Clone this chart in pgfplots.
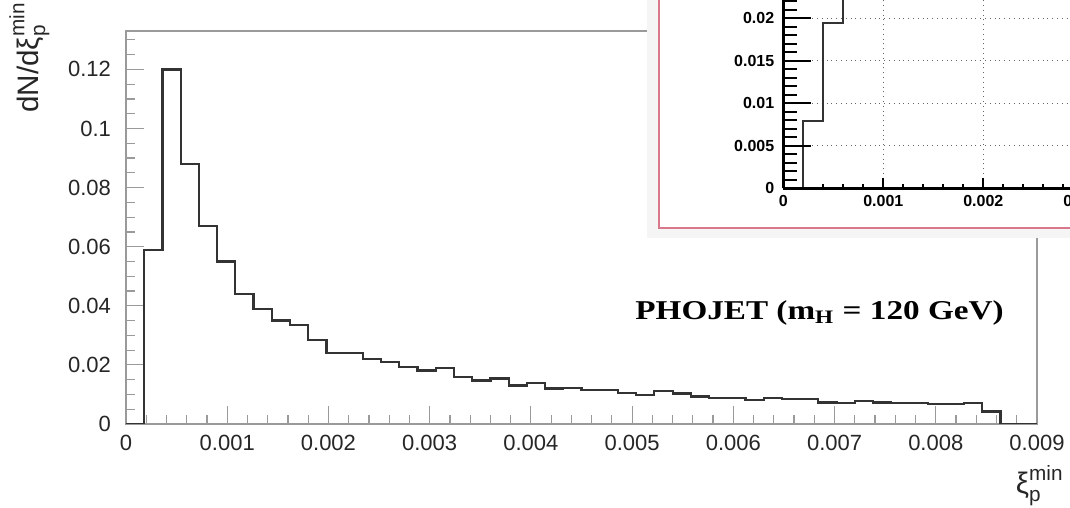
\documentclass[border=0pt]{standalone}
\usepackage{fontspec}
\setmainfont{Liberation Sans}
\newfontfamily\serifbf{Liberation Serif}
\usepackage{amsmath}
\usepackage{graphicx}
\usepackage{pgfplots}
\pgfplotsset{compat=1.18}
\definecolor{framegray}{HTML}{9A9A9A}
\definecolor{insetpink}{HTML}{D8788A}
\definecolor{histgray}{HTML}{333333}
\begin{document}
\begin{tikzpicture}
\path[use as bounding box, clip] (0,0) rectangle (535pt,254pt);
\begin{axis}[
  at={(63pt,42pt)}, anchor=south west, scale only axis,
  width=455.5pt, height=196.5pt,
  xmin=0, xmax=0.009, ymin=0, ymax=0.133,
  axis line style={draw=framegray, line width=0.6pt},
  tick style={draw=framegray, line width=0.6pt},
  tick pos=left, tick align=inside,
  major tick length=9pt, minor tick length=4.5pt,
  xtick={0,0.001,0.002,0.003,0.004,0.005,0.006,0.007,0.008,0.009},
  xticklabels={0,0.001,0.002,0.003,0.004,0.005,0.006,0.007,0.008,0.009},
  minor x tick num=4,
  ytick={0,0.02,0.04,0.06,0.08,0.1,0.12},
  yticklabels={0,0.02,0.04,0.06,0.08,0.1,0.12},
  minor ytick={0.005,0.01,0.015,0.025,0.03,0.035,0.045,0.05,0.055,0.065,0.07,0.075,0.085,0.09,0.095,0.105,0.11,0.115,0.125,0.13},
  scaled ticks=false,
  ticklabel style={font=\fontsize{11}{13}\selectfont, text=black!85},
  xticklabel style={yshift=-2pt},
  yticklabel style={xshift=-4pt},
]
\addplot[const plot, draw=histgray, line width=1.1pt] coordinates {
(0,0) (0.00018,0.059) (0.00036,0.120) (0.00054,0.088) (0.00072,0.067)
(0.0009,0.055) (0.00108,0.044) (0.00126,0.039) (0.00144,0.035) (0.00162,0.0336)
(0.0018,0.0285) (0.00198,0.0240) (0.00216,0.0240) (0.00234,0.0219) (0.00252,0.0211)
(0.0027,0.0192) (0.00288,0.0181) (0.00306,0.0189) (0.00324,0.0160) (0.00342,0.0147)
(0.0036,0.0154) (0.00378,0.0130) (0.00396,0.0140) (0.00414,0.0120) (0.00432,0.0122)
(0.0045,0.0115) (0.00468,0.0115) (0.00486,0.0104) (0.00504,0.0098) (0.00522,0.0111)
(0.0054,0.0103) (0.00558,0.0093) (0.00576,0.0089) (0.00594,0.0089) (0.00612,0.0082)
(0.0063,0.0087) (0.00648,0.0084) (0.00666,0.0084) (0.00684,0.0073) (0.00702,0.0070)
(0.0072,0.0078) (0.00738,0.0073) (0.00756,0.0071) (0.00774,0.0071) (0.00792,0.0067)
(0.0081,0.0067) (0.00828,0.0070) (0.00846,0.0042) (0.00864,0) (0.00882,0) (0.009,0)
};
\end{axis}
% axis titles
\node[rotate=90, anchor=base east, inner sep=0pt, font=\fontsize{14.8}{16}\selectfont, text=black!85]
  at (19pt,253pt) {dN/d$\text{ξ}^{\text{min}}_{\text{p}}$};
\node[anchor=base east, inner sep=0pt, font=\fontsize{14.8}{16}\selectfont, text=black!85]
  at (532pt,7pt) {$\text{ξ}^{\text{min}}_{\text{p}}$};
\node[anchor=base west, inner sep=0pt, font=\serifbf\bfseries\fontsize{13.6}{15}\selectfont]
  at (317.5pt,94.35pt) {\scalebox{1.22}[1]{PHOJET (m\textsubscript{H} = 120 GeV)}};
% inset frame
\fill[black!4] (323.5pt,135pt) rectangle (560pt,300pt);
\draw[insetpink, line width=0.9pt, fill=white] (329.5pt,140pt) rectangle (560pt,300pt);
% inset: x ticks, grid, histogram
\begin{axis}[
  at={(391.65pt,159.85pt)}, anchor=south west, scale only axis,
  width=200pt, height=127.5pt,
  xmin=0, xmax=0.004, ymin=0, ymax=0.03,
  axis x line*=bottom, axis y line*=left,
  axis line style={black, line width=1.5pt},
  tick style={black, line width=0.9pt},
  tick align=inside,
  major tick length=5pt, minor tick length=2.2pt,
  xtick={0,0.001,0.002,0.003,0.004},
  xticklabels={0,0.001,0.002,0.003,0.004},
  minor x tick num=4,
  ytick={0,0.005,0.01,0.015,0.02,0.025,0.03},
  yticklabels={},
  ymajorticks=false,
  scaled ticks=false,
  grid=major,
  major grid style={black!60, dotted, line width=0.7pt},
  ticklabel style={font=\bfseries\fontsize{8}{9}\selectfont},
  clip=true,
]
\addplot[const plot, draw=black!80, line width=1.1pt] coordinates {
(0,0) (0.0002,0.0079) (0.0004,0.0194) (0.0006,0.028) (0.0008,0.032)
(0.001,0.034) (0.0012,0.034) (0.0014,0.034) (0.0016,0.034) (0.0018,0.034)
(0.002,0.034) (0.0022,0.034) (0.0024,0.034) (0.0026,0.034) (0.0028,0.034)
(0.003,0.034) (0.004,0.034)
};
\end{axis}
% inset: y ticks
\begin{axis}[
  at={(391.65pt,159.85pt)}, anchor=south west, scale only axis,
  width=200pt, height=127.5pt,
  xmin=0, xmax=0.004, ymin=0, ymax=0.03,
  axis x line*=bottom, axis y line*=left,
  axis line style={draw=none},
  tick style={black, line width=0.9pt},
  tick align=inside,
  major tick length=14pt, minor tick length=7pt,
  xmajorticks=false, xminorticks=false,
  ytick={0,0.005,0.01,0.015,0.02,0.025,0.03},
  yticklabels={0,0.005,0.01,0.015,0.02,{},{}},
  minor y tick num=4,
  scaled ticks=false,
  ticklabel style={font=\bfseries\fontsize{8}{9}\selectfont},
  yticklabel style={xshift=-1pt},
]
\addplot[draw=none] coordinates {(0,0)};
\end{axis}
\end{tikzpicture}
\end{document}
